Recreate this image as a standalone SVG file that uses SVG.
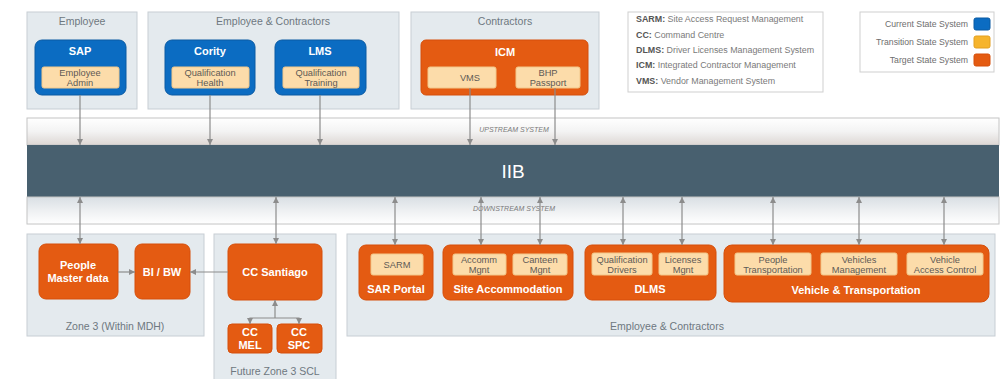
<svg xmlns="http://www.w3.org/2000/svg" width="1003" height="379" viewBox="0 0 1003 379">
<defs>
<linearGradient id="gUp" x1="0" y1="0" x2="0" y2="1">
<stop offset="0" stop-color="#ffffff"/><stop offset="0.5" stop-color="#f3f3f3"/><stop offset="1" stop-color="#ddd7d4"/>
</linearGradient>
<linearGradient id="gDown" x1="0" y1="0" x2="0" y2="1">
<stop offset="0" stop-color="#d9dfe4"/><stop offset="0.5" stop-color="#eef0f2"/><stop offset="1" stop-color="#ffffff"/>
</linearGradient>
<marker id="ah" viewBox="0 0 6 6" refX="6" refY="3" markerWidth="6" markerHeight="6" markerUnits="userSpaceOnUse" orient="auto-start-reverse">
<path d="M0,0 L6,3 L0,6 z" fill="#8c8c8c"/>
</marker>
<style>
.cont{fill:#e4eaee;stroke:#c7ced4;stroke-width:1}
.ctitle{font-family:"Liberation Sans",Arial,sans-serif;font-size:10.5px;fill:#6e7880;text-anchor:middle}
.blue{fill:#0b6cc2;stroke:#0a5aa3;stroke-width:1}
.org{fill:#e45b12;stroke:#d64f0a;stroke-width:1}
.inner{fill:#fcdcaa;stroke:#f3c88a;stroke-width:1}
.bt{font-family:"Liberation Sans",Arial,sans-serif;font-size:11px;font-weight:bold;fill:#ffffff;text-anchor:middle}
.it{font-family:"Liberation Sans",Arial,sans-serif;font-size:9.3px;fill:#5e5a55;text-anchor:middle}
.ab{font-family:"Liberation Sans",Arial,sans-serif;font-size:8.9px;fill:#7a7a7a}
.abb{font-weight:bold;fill:#555}
.lg{font-family:"Liberation Sans",Arial,sans-serif;font-size:8.7px;fill:#6e6e6e;text-anchor:end}
.band{font-family:"Liberation Sans",Arial,sans-serif;font-size:7px;font-style:italic;fill:#7a7a7a;text-anchor:middle}
.cn{stroke:#8c8c8c;stroke-width:1.2;fill:none}
</style>
</defs>

<!-- bands -->
<g id="upstream">
<rect x="27" y="118" width="972" height="27" fill="url(#gUp)" stroke="#c4c4c4"/>
<text class="band" x="514" y="132">UPSTREAM SYSTEM</text>
</g>
<g id="iib">
<rect x="27" y="145" width="972" height="52" fill="#48606f"/>
<text x="513" y="178" font-family="'Liberation Sans',Arial,sans-serif" font-size="19" fill="#ffffff" text-anchor="middle">IIB</text>
</g>
<g id="downstream">
<rect x="27" y="197" width="972" height="27" fill="url(#gDown)" stroke="#c4c4c4"/>
<text class="band" x="514" y="211">DOWNSTREAM SYSTEM</text>
</g>

<!-- top containers -->
<g id="employee">
<rect class="cont" x="27" y="12" width="110" height="97"/>
<text class="ctitle" x="82" y="25">Employee</text>
</g>
<g id="sap">
<rect class="blue" x="35" y="40" width="91" height="55" rx="7"/>
<text class="bt" x="80" y="55">SAP</text>
<rect class="inner" x="42" y="67" width="77" height="21" rx="2"/>
<text class="it" x="80" y="76">Employee</text>
<text class="it" x="80" y="86">Admin</text>
</g>

<g id="emp-contractors-top">
<rect class="cont" x="148" y="12" width="251" height="97"/>
<text class="ctitle" x="273" y="25">Employee &amp; Contractors</text>
</g>
<g id="cority">
<rect class="blue" x="165" y="40" width="90" height="55" rx="7"/>
<text class="bt" x="210" y="55">Cority</text>
<rect class="inner" x="172" y="67" width="77" height="21" rx="2"/>
<text class="it" x="210" y="76">Qualification</text>
<text class="it" x="210" y="86">Health</text>
</g>
<g id="lms">
<rect class="blue" x="275" y="40" width="91" height="55" rx="7"/>
<text class="bt" x="320" y="55">LMS</text>
<rect class="inner" x="283" y="67" width="76" height="21" rx="2"/>
<text class="it" x="321" y="76">Qualification</text>
<text class="it" x="321" y="86">Training</text>
</g>

<g id="contractors">
<rect class="cont" x="411" y="12" width="188" height="97"/>
<text class="ctitle" x="505" y="25">Contractors</text>
</g>
<g id="icm">
<rect class="org" x="421" y="40" width="167" height="55" rx="5"/>
<text class="bt" x="505" y="56" font-size="12">ICM</text>
<rect class="inner" x="428" y="67" width="68" height="21" rx="2"/>
<text class="it" x="470" y="81">VMS</text>
<rect class="inner" x="516" y="67" width="64" height="21" rx="2"/>
<text class="it" x="548" y="76">BHP</text>
<text class="it" x="548" y="86">Passport</text>
</g>

<g id="abbreviations">
<rect x="628" y="12" width="195" height="80" fill="#ffffff" stroke="#cfcfcf"/>
<text class="ab" x="636" y="22"><tspan class="abb">SARM:</tspan> Site Access Request Management</text>
<text class="ab" x="636" y="38"><tspan class="abb">CC:</tspan> Command Centre</text>
<text class="ab" x="636" y="53"><tspan class="abb">DLMS:</tspan> Driver Licenses Management System</text>
<text class="ab" x="636" y="68"><tspan class="abb">ICM:</tspan> Integrated Contractor Management</text>
<text class="ab" x="636" y="84"><tspan class="abb">VMS:</tspan> Vendor Management System</text>
</g>

<g id="legend">
<rect x="860" y="12" width="134" height="60" fill="#ffffff" stroke="#cfcfcf"/>
<text class="lg" x="968" y="27">Current State System</text>
<rect x="974" y="18" width="16" height="12" rx="2" fill="#0b6cc2" stroke="#0a5aa3"/>
<text class="lg" x="968" y="45">Transition State System</text>
<rect x="974" y="36" width="16" height="12" rx="2" fill="#f6b42c" stroke="#e3a020"/>
<text class="lg" x="968" y="63">Target State System</text>
<rect x="974" y="54" width="16" height="12" rx="2" fill="#e45b12" stroke="#d64f0a"/>
</g>

<!-- bottom containers -->
<g id="zone3">
<rect class="cont" x="27" y="234" width="177" height="102"/>
<text class="ctitle" x="115" y="330">Zone 3 (Within MDH)</text>
</g>
<g id="people-master">
<rect class="org" x="39" y="244" width="79" height="55" rx="7"/>
<text class="bt" x="78" y="269" font-size="10.5">People</text>
<text class="bt" x="78" y="282" font-size="10.5">Master data</text>
</g>
<g id="bi-bw">
<rect class="org" x="135" y="244" width="55" height="55" rx="7"/>
<text class="bt" x="162" y="276" font-size="10.5">BI / BW</text>
</g>

<g id="future-zone3">
<rect class="cont" x="214" y="234" width="122" height="150"/>
<text class="ctitle" x="275" y="375">Future Zone 3 SCL</text>
</g>
<g id="cc-santiago">
<rect class="org" x="228" y="244" width="94" height="56" rx="7"/>
<text class="bt" x="275" y="276" font-size="10.5">CC Santiago</text>
</g>
<g id="cc-mel">
<rect class="org" x="228" y="324" width="44" height="29" rx="4"/>
<text class="bt" x="250" y="336" font-size="10.5">CC</text>
<text class="bt" x="250" y="349" font-size="10.5">MEL</text>
</g>
<g id="cc-spc">
<rect class="org" x="277" y="324" width="45" height="29" rx="4"/>
<text class="bt" x="299" y="336" font-size="10.5">CC</text>
<text class="bt" x="299" y="349" font-size="10.5">SPC</text>
</g>

<g id="emp-contractors-bottom">
<rect class="cont" x="347" y="234" width="648" height="102"/>
<text class="ctitle" x="667" y="330">Employee &amp; Contractors</text>
</g>
<g id="sar-portal">
<rect class="org" x="359" y="245" width="74" height="55" rx="7"/>
<rect class="inner" x="371" y="254" width="52" height="21" rx="2"/>
<text class="it" x="397" y="268">SARM</text>
<text class="bt" x="396" y="293" font-size="10.5">SAR Portal</text>
</g>
<g id="site-accommodation">
<rect class="org" x="443" y="245" width="130" height="55" rx="7"/>
<rect class="inner" x="453" y="254" width="53" height="21" rx="2"/>
<text class="it" x="479" y="263">Accomm</text>
<text class="it" x="479" y="273">Mgnt</text>
<rect class="inner" x="513" y="254" width="54" height="21" rx="2"/>
<text class="it" x="540" y="263">Canteen</text>
<text class="it" x="540" y="273">Mgnt</text>
<text class="bt" x="508" y="293" font-size="10.5">Site Accommodation</text>
</g>
<g id="dlms">
<rect class="org" x="585" y="245" width="131" height="55" rx="7"/>
<rect class="inner" x="592" y="253" width="60" height="22" rx="2"/>
<text class="it" x="622" y="263">Qualification</text>
<text class="it" x="622" y="273">Drivers</text>
<rect class="inner" x="659" y="253" width="49" height="22" rx="2"/>
<text class="it" x="683" y="263">Licenses</text>
<text class="it" x="683" y="273">Mgnt</text>
<text class="bt" x="650" y="293" font-size="10.5">DLMS</text>
</g>
<g id="vehicle-transportation">
<rect class="org" x="724" y="245" width="265" height="57" rx="8"/>
<rect class="inner" x="735" y="253" width="76" height="22" rx="2"/>
<text class="it" x="773" y="263">People</text>
<text class="it" x="773" y="273">Transportation</text>
<rect class="inner" x="821" y="253" width="76" height="22" rx="2"/>
<text class="it" x="859" y="263">Vehicles</text>
<text class="it" x="859" y="273">Management</text>
<rect class="inner" x="907" y="253" width="76" height="22" rx="2"/>
<text class="it" x="945" y="263">Vehicle</text>
<text class="it" x="945" y="273">Access Control</text>
<text class="bt" x="856" y="294" font-size="13">Vehicle &amp; Transportation</text>
</g>

<!-- connectors -->
<g id="connectors">
<line class="cn" x1="80" y1="95" x2="80" y2="145" marker-end="url(#ah)"/>
<line class="cn" x1="210" y1="95" x2="210" y2="145" marker-end="url(#ah)"/>
<line class="cn" x1="320" y1="95" x2="320" y2="145" marker-end="url(#ah)"/>
<line class="cn" x1="470" y1="88" x2="470" y2="145" marker-end="url(#ah)"/>
<line class="cn" x1="555" y1="88" x2="555" y2="145" marker-end="url(#ah)"/>

<line class="cn" x1="80" y1="197" x2="80" y2="244" marker-start="url(#ah)" marker-end="url(#ah)"/>
<line class="cn" x1="276" y1="197" x2="276" y2="244" marker-start="url(#ah)" marker-end="url(#ah)"/>
<line class="cn" x1="395" y1="197" x2="395" y2="245" marker-start="url(#ah)" marker-end="url(#ah)"/>
<line class="cn" x1="481" y1="197" x2="481" y2="245" marker-start="url(#ah)" marker-end="url(#ah)"/>
<line class="cn" x1="540" y1="197" x2="540" y2="245" marker-start="url(#ah)" marker-end="url(#ah)"/>
<line class="cn" x1="623" y1="197" x2="623" y2="245" marker-start="url(#ah)" marker-end="url(#ah)"/>
<line class="cn" x1="682" y1="197" x2="682" y2="245" marker-start="url(#ah)" marker-end="url(#ah)"/>
<line class="cn" x1="773" y1="197" x2="773" y2="245" marker-start="url(#ah)" marker-end="url(#ah)"/>
<line class="cn" x1="859" y1="197" x2="859" y2="245" marker-start="url(#ah)" marker-end="url(#ah)"/>
<line class="cn" x1="944" y1="197" x2="944" y2="245" marker-start="url(#ah)" marker-end="url(#ah)"/>

<line class="cn" x1="118" y1="272" x2="135" y2="272" marker-end="url(#ah)"/>
<line class="cn" x1="228" y1="272" x2="190" y2="272" marker-end="url(#ah)"/>
<line class="cn" x1="275" y1="318" x2="275" y2="300" marker-end="url(#ah)"/>
<path class="cn" d="M250,324 L250,318 L299,318 L299,324" marker-start="url(#ah)" marker-end="url(#ah)"/>
</g>
</svg>
